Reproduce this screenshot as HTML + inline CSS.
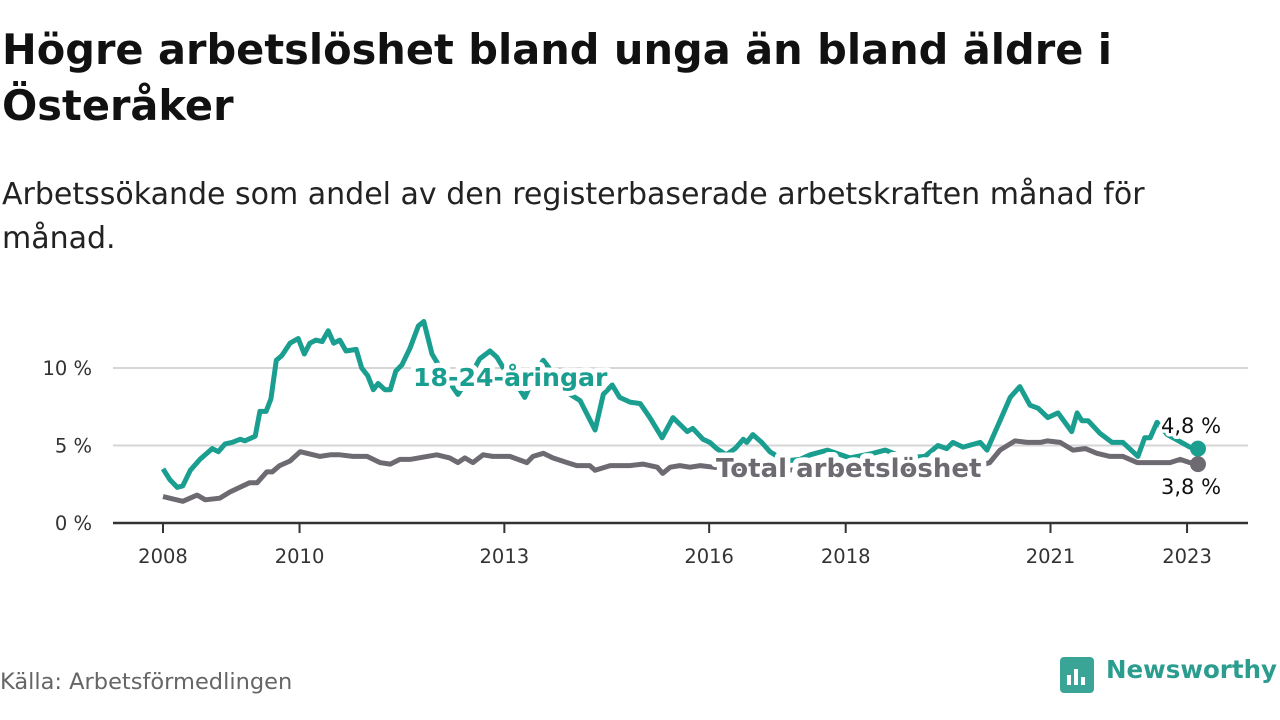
<!DOCTYPE html>
<html><head><meta charset="utf-8">
<style>
body{margin:0;width:1280px;height:720px;background:#fff;font-family:"DejaVu Sans","Liberation Sans",sans-serif;overflow:hidden;position:relative;color:#111}
h1{position:absolute;left:2px;top:22px;margin:0;font-size:41.5px;line-height:56px;font-weight:bold;width:1275px;white-space:nowrap}
.sub{position:absolute;left:2px;top:173px;font-size:30px;line-height:44px;width:1275px;color:#222;white-space:nowrap}
.src{position:absolute;left:0;top:669px;font-size:22.5px;color:#666}
.logo{position:absolute;left:1060px;top:655px}
.brand{position:absolute;left:1106px;top:655px;font-size:24.5px;font-weight:bold;color:#2a9d8f}
svg{position:absolute;left:0;top:0}
</style></head><body>
<h1>Högre arbetslöshet bland unga än bland äldre i<br>Österåker</h1>
<div class="sub">Arbetssökande som andel av den registerbaserade arbetskraften månad för<br>månad.</div>
<svg id="chart" width="1280" height="720"></svg>
<div class="src">Källa: Arbetsförmedlingen</div>
<svg class="logo" width="36" height="40"><rect x="0" y="2" width="34" height="36" rx="4" fill="#3aa597"/><rect x="7" y="20" width="4" height="10" fill="#fff"/><rect x="14" y="14" width="4" height="16" fill="#fff"/><rect x="21" y="22" width="4" height="8" fill="#fff"/></svg>
<div class="brand">Newsworthy</div>
<script>
const yearTicks=[2008,2010,2013,2016,2018,2021,2023];
const yTicks=[0,5,10];
const yTickLabels=["0 %","5 %","10 %"];
const youthYears=[2008.00,2008.10,2008.21,2008.29,2008.40,2008.54,2008.72,2008.81,2008.91,2009.01,2009.13,2009.20,2009.35,2009.42,2009.51,2009.58,2009.66,2009.74,2009.86,2009.98,2010.07,2010.15,2010.24,2010.33,2010.42,2010.50,2010.59,2010.68,2010.83,2010.91,2011.00,2011.08,2011.15,2011.25,2011.33,2011.41,2011.50,2011.62,2011.74,2011.82,2011.94,2012.13,2012.32,2012.50,2012.64,2012.79,2012.89,2013.04,2013.20,2013.30,2013.45,2013.57,2013.74,2013.93,2014.11,2014.33,2014.45,2014.58,2014.69,2014.84,2014.99,2015.13,2015.31,2015.47,2015.68,2015.76,2015.91,2016.01,2016.11,2016.25,2016.38,2016.50,2016.55,2016.64,2016.77,2016.89,2017.11,2017.33,2017.48,2017.73,2018.06,2018.40,2018.58,2018.87,2019.16,2019.35,2019.48,2019.57,2019.72,2019.97,2020.07,2020.26,2020.41,2020.55,2020.70,2020.82,2020.96,2021.11,2021.31,2021.39,2021.46,2021.55,2021.72,2021.90,2022.06,2022.28,2022.38,2022.46,2022.56,2022.71,2023.04,2023.16];
const youthValues=[3.5,2.8,2.3,2.4,3.4,4.1,4.8,4.6,5.1,5.2,5.4,5.3,5.6,7.2,7.2,8.0,10.5,10.8,11.6,11.9,10.9,11.6,11.8,11.7,12.4,11.6,11.8,11.1,11.2,10.0,9.5,8.6,9.0,8.6,8.6,9.8,10.2,11.3,12.7,13.0,10.9,9.5,8.3,9.5,10.6,11.1,10.7,9.6,8.8,8.1,9.6,10.5,9.5,8.4,7.9,6.0,8.3,8.9,8.1,7.8,7.7,6.8,5.5,6.8,5.9,6.1,5.4,5.2,4.8,4.4,4.8,5.4,5.2,5.7,5.2,4.6,4.0,4.1,4.4,4.7,4.2,4.5,4.7,4.2,4.3,5.0,4.8,5.2,4.9,5.2,4.7,6.6,8.1,8.8,7.6,7.4,6.8,7.1,5.9,7.1,6.6,6.6,5.8,5.2,5.2,4.3,5.5,5.5,6.5,5.7,4.9,4.8];
const totalYears=[2008.00,2008.29,2008.50,2008.62,2008.83,2008.98,2009.27,2009.38,2009.52,2009.60,2009.71,2009.86,2010.01,2010.11,2010.30,2010.45,2010.59,2010.78,2010.99,2011.18,2011.33,2011.47,2011.62,2011.87,2012.01,2012.20,2012.32,2012.42,2012.54,2012.69,2012.83,2013.08,2013.33,2013.42,2013.57,2013.71,2013.92,2014.06,2014.25,2014.33,2014.55,2014.84,2015.03,2015.24,2015.32,2015.43,2015.57,2015.72,2015.87,2016.06,2016.60,2017.33,2018.06,2018.80,2019.53,2019.89,2020.11,2020.26,2020.48,2020.66,2020.85,2020.95,2021.14,2021.33,2021.51,2021.68,2021.87,2022.06,2022.27,2022.41,2022.75,2022.90,2023.04,2023.16];
const totalValues=[1.7,1.4,1.8,1.5,1.6,2.0,2.6,2.6,3.3,3.3,3.7,4.0,4.6,4.5,4.3,4.4,4.4,4.3,4.3,3.9,3.8,4.1,4.1,4.3,4.4,4.2,3.9,4.2,3.9,4.4,4.3,4.3,3.9,4.3,4.5,4.2,3.9,3.7,3.7,3.4,3.7,3.7,3.8,3.6,3.2,3.6,3.7,3.6,3.7,3.6,3.5,3.4,3.3,3.4,3.5,3.6,3.9,4.7,5.3,5.2,5.2,5.3,5.2,4.7,4.8,4.5,4.3,4.3,3.9,3.9,3.9,4.1,3.9,3.8];

const NS="http://www.w3.org/2000/svg";
const svg=document.getElementById('chart');
const X=y=>163+(y-2008)*68.27;
const Y=v=>523-v*15.5;
function mk(tag,attrs,parent){const e=document.createElementNS(NS,tag);for(const k in attrs)e.setAttribute(k,attrs[k]);(parent||svg).appendChild(e);return e;}
yTicks.forEach((t,i)=>{
  if(t>0){const g=mk('line',{x1:113,x2:1248,y1:Y(t),y2:Y(t),stroke:'#d6d6d6','stroke-width':2});
  
  }
  const l=mk('text',{x:92,y:Y(t)+7,'text-anchor':'end','font-size':19.5,fill:'#333'});
  l.textContent=yTickLabels[i];
  
  
});
const ax=mk('line',{x1:113,x2:1248,y1:523,y2:523,stroke:'#333','stroke-width':2.5});


yearTicks.forEach(t=>{
  const tk=mk('line',{x1:X(t),x2:X(t),y1:523,y2:533,stroke:'#333','stroke-width':2});
  
  
  const l=mk('text',{x:X(t),y:563,'text-anchor':'middle','font-size':19.5,fill:'#333'});
  l.textContent=t;
  
  
});
function line(xs,vs,color,name){
  const d=xs.map((x,i)=>(i?'L':'M')+X(x).toFixed(1)+','+Y(vs[i]).toFixed(1)).join('');
  const p=mk('path',{d:d,fill:'none',stroke:color,'stroke-width':5,'stroke-linejoin':'round'});
  
  
  const n=xs.length-1;
  const c=mk('circle',{cx:X(xs[n]),cy:Y(vs[n]),r:8,fill:color});
  
  
}
line(totalYears,totalValues,'#6d6a72','total-line');
line(youthYears,youthValues,'#1a9e8f','youth-line');
function label(txt,x,y,color,size,bold,name,sw){
  const t=mk('text',{x:x,y:y,'font-size':size,'font-weight':bold?'bold':'normal',fill:color,stroke:'#fff','stroke-width':sw||8,'paint-order':'stroke','stroke-linejoin':'round'});
  t.textContent=txt;
  
  
}
label('18-24-åringar',413,386,'#1a9e8f',25.2,true,'youth-series-label',10);
label('Total arbetslöshet',716,477,'#6d6a72',26,true,'total-series-label',11);
const n1=youthValues.length-1,n2=totalValues.length-1;
label(youthValues[n1].toFixed(1).replace('.',',')+' %',1161,433,'#111',21,false,'youth-end-value',7);
label(totalValues[n2].toFixed(1).replace('.',',')+' %',1161,494,'#111',21,false,'total-end-value',7);
</script>
</body></html>
